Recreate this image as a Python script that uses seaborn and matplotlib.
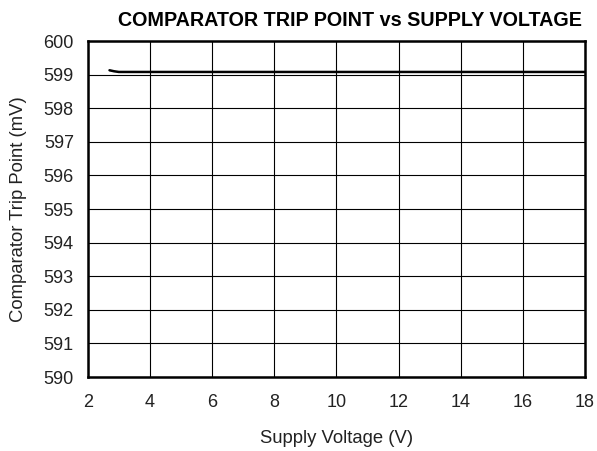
import matplotlib
matplotlib.use("Agg")
import matplotlib.pyplot as plt
import seaborn as sns
import pandas as pd

# Data
supply_v = [2.7, 2.85, 3.0, 3.5, 4.0, 6.0, 8.0, 10.0, 12.0, 14.0, 16.0, 18.0]
trip_mv = [599.13, 599.10, 599.08, 599.08, 599.08, 599.08, 599.08, 599.08, 599.08, 599.08, 599.08, 599.08]
x_ticks = [2, 4, 6, 8, 10, 12, 14, 16, 18]
y_ticks = [590, 591, 592, 593, 594, 595, 596, 597, 598, 599, 600]

df = pd.DataFrame({"v": supply_v, "mv": trip_mv})

sns.set_style("white")
plt.rcParams['font.family'] = ['Liberation Sans', 'DejaVu Sans']

fig, ax = plt.subplots(figsize=(5.97, 4.51), dpi=100)
fig.subplots_adjust(left=0.147, right=0.98, top=0.909, bottom=0.164)

sns.lineplot(data=df, x="v", y="mv", ax=ax, color="black", linewidth=1.8)

ax.set_xlim(2, 18)
ax.set_ylim(590, 600)
ax.set_xticks(x_ticks)
ax.set_yticks(y_ticks)
ax.grid(True, color="black", linewidth=0.8)
for s in ax.spines.values():
    s.set_color("black")
    s.set_linewidth(1.8)
ax.tick_params(length=0, labelsize=13, colors="#222222")
ax.tick_params(axis="x", pad=12)
ax.tick_params(axis="y", pad=10)
ax.set_xlabel("Supply Voltage (V)", fontsize=13.3, labelpad=14, color="#222222")
ax.set_ylabel("Comparator Trip Point (mV)", fontsize=13.3, labelpad=12, color="#222222")
ax.set_title("COMPARATOR TRIP POINT vs SUPPLY VOLTAGE", fontsize=14.2,
             fontweight="bold", pad=11, x=0.527, color="black")

fig.savefig("out.png", dpi=100)
